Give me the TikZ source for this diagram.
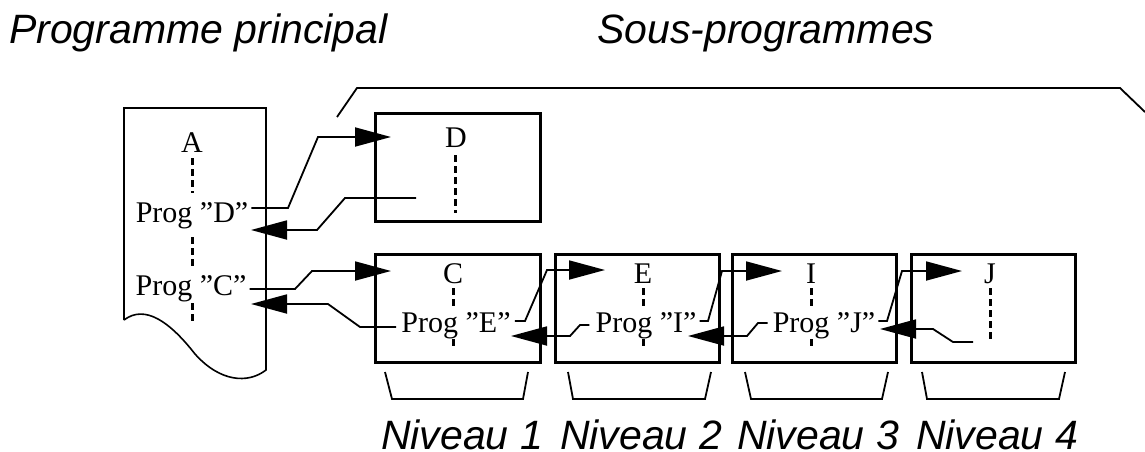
\documentclass[tikz,border=0pt]{standalone}
\usepackage{fontspec}
\setmainfont{Liberation Serif}
\newfontfamily\hv{Liberation Sans}
\usetikzlibrary{arrows.meta}

\tikzset{
  x=1pt, y=-1pt,
  docpage/.style={line width=1.6pt},
  box/.style={draw, line width=3pt, inner sep=0pt, minimum width=#1, minimum height=108pt},
  lbl/.style={font=\fontsize{30}{30}\selectfont, inner sep=0pt, anchor=base},
  link/.style={line width=1.8pt, line join=miter},
  arr/.style={link, -{Triangle[length=36pt,width=19pt]}},
  dots/.style={line width=3pt, dash pattern=on 6.5pt off 4.5pt},
  brk/.style={line width=1.8pt},
  title/.style={font=\hv\itshape\fontsize{41}{41}\selectfont, inner sep=0pt},
}

\begin{document}
\begin{tikzpicture}
\useasboundingbox (0,0) rectangle (1145,452);

% headings
\node[title, anchor=base west] (tmain) at (9,44) {Programme principal};
\node[title, anchor=base west] (tsub) at (597,44) {Sous-programmes};

% main program page with torn bottom edge
\draw[docpage] (124,320) -- (124,108) -- (266,108) -- (266,370)
  .. controls (248,384) and (220,382) .. (195,354)
  .. controls (170,322) and (145,304) .. (124,320);

\node[lbl] (A) at (192,152) {A};
\node[lbl] (pD) at (192,222) {Prog ”D”};
\node[lbl] (pC) at (191,295) {Prog ”C”};
\draw[dots] (192,158) -- (192,193);
\draw[dots] (192,237) -- (192,267);
\draw[dots] (192,303) -- (192,324);

% subroutine boxes
\node[box=165pt] (bD) at (457.5,167) {};
\node[box=165pt] (bC) at (457.5,308) {};
\node[box=164pt] (bE) at (637,308) {};
\node[box=164pt] (bI) at (814,308) {};
\node[box=164pt] (bJ) at (993,308) {};

\node[lbl] (lD) at (456,147) {D};
\node[lbl] (lC) at (453,283) {C};
\node[lbl] (lE) at (643,283) {E};
\node[lbl] (lI) at (811,283) {I};
\node[lbl] (lJ) at (990,283) {J};

\node[lbl] (pE) at (456,332) {Prog ”E”};
\node[lbl] (pI) at (646,332) {Prog ”I”};
\node[lbl] (pJ) at (824,332) {Prog ”J”};

\draw[dots] (455,155) -- (455,213);
\draw[dots] (453,288) -- (453,308);
\draw[dots] (453,339) -- (453,349);
\draw[dots] (643,288) -- (643,308);
\draw[dots] (643,339) -- (643,349);
\draw[dots] (811,288) -- (811,308);
\draw[dots] (811,339) -- (811,349);
\draw[dots] (990,288) -- (990,343);

% entry points and return points inside the boxes
\coordinate (inD) at (391,137);
\coordinate (outD) at (416,198);
\coordinate (inC) at (391,271);
\coordinate (inE) at (605,270);
\coordinate (inI) at (782,271);
\coordinate (inJ) at (962,271);
\coordinate (outJ) at (973,342);
\coordinate (backA2) at (251,304);
\coordinate (backA1) at (251,230);
\coordinate (backC) at (511,336);
\coordinate (backE) at (688,336);
\coordinate (backI) at (880,329);

% calls
\draw[arr] ([xshift=3pt,yshift=14pt]pD.base east) -- (288,208) -- (318,137) -- (inD);
\draw[arr] ([xshift=3pt,yshift=6pt]pC.base east) -- (295,289) -- (312,271) -- (inC);
\draw[arr] ([xshift=4pt,yshift=11pt]pE.base east) -- (525,321) -- (547,270) -- (inE);
\draw[arr] ([xshift=3pt,yshift=11pt]pI.base east) -- (708,321) -- (722,271) -- (inI);
\draw[arr] ([xshift=3pt,yshift=11pt]pJ.base east) -- (887,321) -- (902,271) -- (inJ);

% returns
\draw[arr] (outD) -- (345,198) -- (317,230) -- (backA1);
\draw[arr] ([xshift=-5pt,yshift=5pt]pE.base west) -- (360,327) -- (328,304) -- (backA2);
\draw[arr] ([xshift=-6pt,yshift=7pt]pI.base west) -- (580,325) -- (570,336) -- (backC);
\draw[arr] ([xshift=-5pt,yshift=9pt]pJ.base west) -- (758,323) -- (747,336) -- (backE);
\draw[arr] (outJ) -- (953,342) -- (933,329) -- (backI);

% bracket over the subroutines
\draw[brk] (337,117) -- (357,88) -- (1120,88) -- (1145,112);

% level brackets
\draw[brk] (385,372) -- (392,399) -- (523,399) -- (528,372);
\draw[brk] (568,372) -- (573,399) -- (705,399) -- (711,372);
\draw[brk] (745,372) -- (751,399) -- (882,399) -- (888,372);
\draw[brk] (922,372) -- (927,399) -- (1059,399) -- (1065,372);

\node[title, anchor=base] (n1) at (462,449) {Niveau 1};
\node[title, anchor=base] (n2) at (641,449) {Niveau 2};
\node[title, anchor=base] (n3) at (818,449) {Niveau 3};
\node[title, anchor=base] (n4) at (997,449) {Niveau 4};
\end{tikzpicture}
\end{document}
